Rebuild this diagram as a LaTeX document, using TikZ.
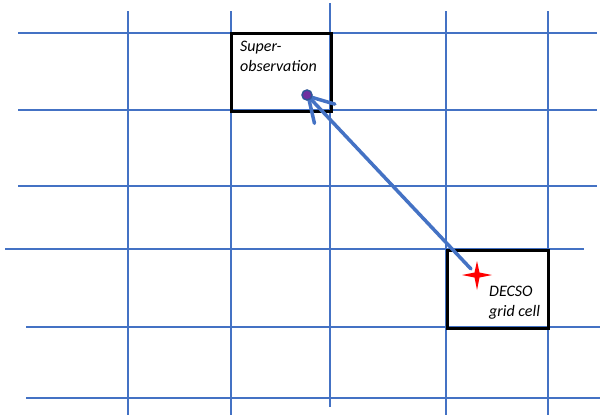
\documentclass[tikz,border=0pt]{standalone}
\usepackage{fontspec}
\setmainfont{Carlito}
\usetikzlibrary{arrows.meta}
\definecolor{gridblue}{HTML}{4472C4}
\definecolor{dotpurple}{HTML}{7030A0}
\definecolor{dotedge}{HTML}{2F5597}
\begin{document}
\begin{tikzpicture}[x=1pt,y=-1pt,
  gridline/.style={draw=gridblue,line width=1.2pt},
  cellbox/.style={draw=black,line width=3pt},
  lbl/.style={font=\fontsize{16}{19.5}\selectfont\itshape,inner sep=0pt,anchor=base west,align=left},
  conn/.style={draw=gridblue,line width=3.5pt,line cap=round,
    -{Straight Barb[length=24pt,width=28pt,line width=3.5pt,round]}}]
\useasboundingbox (0,0) rectangle (600,415);
% horizontal grid lines
\foreach \y/\a/\b in {33/18/597,110/18/597,186/18/597,249/5/584,327/26/600,398/26/600}
  \draw[gridline] (\a,\y) -- (\b,\y);
% vertical grid lines
\foreach \x/\a/\b in {128/11/415,231/11/415,330/3/407,446/11/415,548/11/415}
  \draw[gridline] (\x,\a) -- (\x,\b);
% boxes
\draw[cellbox] (231.5,33.5) rectangle (331,111);
\draw[cellbox] (447,250) rectangle (548,328);
% labels
\node[lbl] (suplbl) at (240,71) {Super-\\observation};
\node[lbl] (declbl) at (489,316) {DECSO\\grid cell};
% points
\coordinate (dotc) at (307,95);
\coordinate (src) at (471,269);
% arrow
\draw[conn] (src) -- (dotc);
\node[circle,fill=dotpurple,draw=dotedge,line width=1.5pt,minimum size=10pt,inner sep=0pt] (dot) at (dotc) {};
% star
\fill[red] (477,261) -- (479.5,272.5) -- (492,275) -- (479.5,277.5) -- (477,290)
  -- (474.5,277.5) -- (462,275) -- (474.5,272.5) -- cycle;
\end{tikzpicture}
\end{document}
